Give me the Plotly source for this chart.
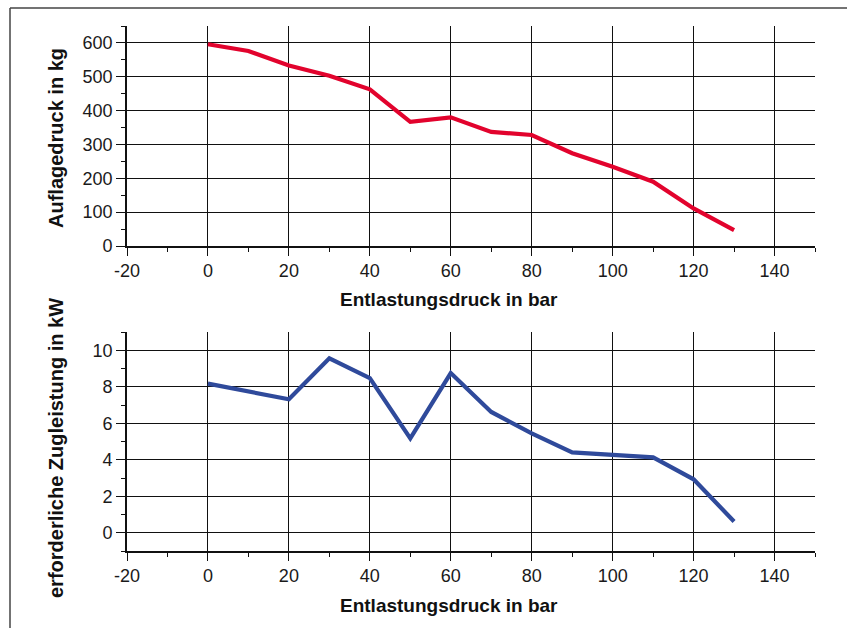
import plotly.graph_objects as go

# Data
druck = [0, 10, 20, 30, 40, 50, 60, 70, 80, 90, 100, 110, 120, 130]
auflagedruck = [596, 576, 533, 503, 463, 367, 380, 337, 328, 274, 234, 190, 111, 47]
zugleistung = [8.17, 7.75, 7.31, 9.56, 8.47, 5.17, 8.75, 6.62, 5.44, 4.40, 4.25, 4.13, 2.93, 0.62]

x_tickvals = [-20, 0, 20, 40, 60, 80, 100, 120, 140]
x_ticktext = ["-20", "0", "20", "40", "60", "80", "100", "120", "140"]

x_title = "Entlastungsdruck in bar"
y1_title = "Auflagedruck in kg"
y2_title = "erforderliche Zugleistung in kW"

W, H = 847, 628
ML, MR, MT, MB = 127, 32, 26, 77
PW = W - ML - MR
PH = H - MT - MB

def px_x(px):
    return (px - ML) / PW

def px_y(py):
    return (H - MB - py) / PH

fig = go.Figure()
fig.add_trace(go.Scatter(x=druck, y=auflagedruck, mode="lines",
                         line=dict(color="#E2032D", width=4.2),
                         xaxis="x", yaxis="y", showlegend=False))
fig.add_trace(go.Scatter(x=druck, y=zugleistung, mode="lines",
                         line=dict(color="#2F4A9B", width=4.2),
                         xaxis="x2", yaxis="y2", showlegend=False))

tickfont = dict(family="Liberation Sans, Arial, sans-serif", size=18, color="#1a1a1a")
gridc = "#111111"

def xax(anchor):
    return dict(range=[-20, 150], tickvals=x_tickvals, ticktext=x_ticktext, anchor=anchor,
                showgrid=True, gridcolor=gridc, gridwidth=1.4,
                showline=True, linecolor=gridc, linewidth=1.6,
                ticks="outside", ticklen=8, tickcolor=gridc, tickwidth=1.2,
                minor=dict(dtick=10, tick0=0, ticks="outside", ticklen=4, tickcolor=gridc, showgrid=False),
                tickfont=tickfont, zeroline=False, fixedrange=True)

def yax(anchor, rng, dt, mdt, domain):
    return dict(range=rng, dtick=dt, tick0=0, anchor=anchor, domain=domain,
                showgrid=True, gridcolor=gridc, gridwidth=1.4,
                showline=True, linecolor=gridc, linewidth=1.6,
                ticks="outside", ticklen=9, tickcolor=gridc, tickwidth=1.2,
                minor=dict(dtick=mdt, ticks="outside", ticklen=4, tickcolor=gridc, showgrid=False),
                tickfont=tickfont, zeroline=False, fixedrange=True)

top_dom = [px_y(246), 1.0]
bot_dom = [0.0, px_y(332)]

fig.update_layout(
    width=W, height=H,
    margin=dict(l=ML, r=MR, t=MT, b=MB),
    paper_bgcolor="white", plot_bgcolor="white",
    xaxis=xax("y"),
    yaxis=yax("x", [0, 650], 100, 50, top_dom),
    xaxis2=xax("y2"),
    yaxis2=yax("x2", [-1, 11], 2, 1, bot_dom),
)

titlefont_x = dict(family="Liberation Sans, Arial, sans-serif", size=19, color="#111")
titlefont_y = dict(family="Liberation Sans, Arial, sans-serif", size=20, color="#111")

fig.add_annotation(text="<b>%s</b>" % x_title, xref="paper", yref="paper",
                   x=px_x(449), y=px_y(299), xanchor="center", yanchor="middle",
                   showarrow=False, font=titlefont_x)
fig.add_annotation(text="<b>%s</b>" % x_title, xref="paper", yref="paper",
                   x=px_x(449), y=px_y(605), xanchor="center", yanchor="middle",
                   showarrow=False, font=titlefont_x)
fig.add_annotation(text="<b>%s</b>" % y1_title, xref="paper", yref="paper",
                   x=px_x(56), y=px_y(138), xanchor="center", yanchor="middle",
                   textangle=-90, showarrow=False, font=titlefont_y)
fig.add_annotation(text="<b>%s</b>" % y2_title, xref="paper", yref="paper",
                   x=px_x(56), y=px_y(448), xanchor="center", yanchor="middle",
                   textangle=-90, showarrow=False, font=titlefont_y)

# outer frame (left and top edges)
fig.add_shape(type="line", xref="paper", yref="paper",
              x0=px_x(10), x1=px_x(10), y0=px_y(8), y1=px_y(640),
              line=dict(color="#444", width=1.5))
fig.add_shape(type="line", xref="paper", yref="paper",
              x0=px_x(10), x1=px_x(860), y0=px_y(8), y1=px_y(8),
              line=dict(color="#444", width=1.5))

fig.write_html("out.html", config={"displayModeBar": False},
               post_script="document.body.style.margin='0';document.body.style.overflow='hidden';")
